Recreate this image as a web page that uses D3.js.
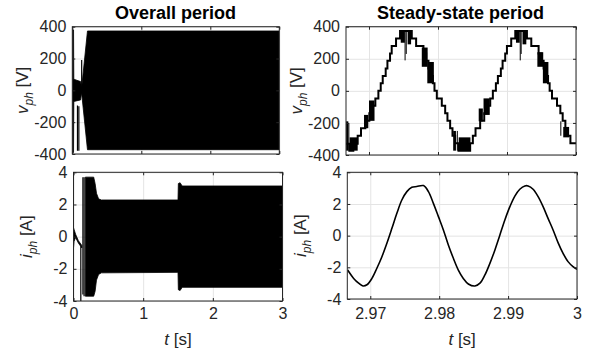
<!DOCTYPE html>
<html>
<head>
<meta charset="utf-8">
<script src="https://cdn.jsdelivr.net/npm/d3@7"></script>
<style>
  body { margin: 0; background: #fff; }
  svg { display: block; font-family: "Liberation Sans", Arial, sans-serif; }
</style>
</head>
<body>
<svg id="chart" width="590" height="353"></svg>
<script>
// ---- data ----

// overall period, voltage envelope: [t, low, high] (the 60 Hz carrier is too dense to show, only the band)
const vAllEnvelope = [
  [0.000, -390, 380], [0.018, -390, 380], [0.022, -70, 70],
  [0.120, -60, 55], [0.135, -15, 15], [0.220, -373, 373], [3.000, -373, 373]
];
// single switching spikes in the start-up: [t, low, high]
const vAllSpikes = [[0.075, -380, -95], [0.095, -380, -100], [0.136, 0, 190]];

// overall period, current envelope (null = gap)
const iAllEnvelope = [
  [0.000, -0.7, 0.55], [0.008, -0.3, 0.45], [0.030, -0.05, 0.15], [0.070, -0.4, -0.25],
  [0.120, -0.7, -0.55],
  [0.125, null, null],
  [0.170, -3.7, 3.7], [0.290, -3.7, 3.7], [0.310, -3.4, 3.3], [0.330, -2.7, 2.7],
  [0.360, -2.35, 2.35], [0.400, -2.25, 2.28], [1.500, -2.22, 2.28], [1.505, -3.3, 3.3],
  [1.530, -3.35, 3.35], [1.560, -3.15, 3.15], [3.000, -3.15, 3.15]
];
const iAllSpikes = [[0.105, -4, -0.6], [0.135, -3.6, 3.7], [0.152, -3.7, 3.7]];

// steady-state voltage: staircase corners (time, level)
const vStepT = [2.96667, 2.96715, 2.96773, 2.96836, 2.96884, 2.96947, 2.97005, 2.97054, 2.97092, 2.97136,
  2.97170, 2.97199, 2.97242, 2.97267, 2.97305, 2.97329, 2.97392, 2.97450, 2.97620, 2.97683,
  2.97789, 2.97828, 2.97862, 2.97886, 2.97925, 2.97949, 2.97983, 2.98055, 2.98104, 2.98137,
  2.98176, 2.98210, 2.98249, 2.98297, 2.98466, 2.98505, 2.98544, 2.98611, 2.98670, 2.98718,
  2.98757, 2.98795, 2.98839, 2.98868, 2.98911, 2.98936, 2.98974, 2.98999, 2.99061, 2.99120,
  2.99289, 2.99352, 2.99458, 2.99497, 2.99531, 2.99555, 2.99595, 2.99618, 2.99652, 2.99725,
  2.99773, 2.99807, 2.99846, 2.99880, 2.99919, 3.00000];
const vStepV = [-330, -373, -330, -280, -233, -187, -140, -93, -47, 0,
  47, 93, 140, 187, 233, 280, 327, 373, 327, 280,
  233, 187, 140, 93, 47, 0, -47, -93, -140, -187,
  -233, -280, -327, -373, -327, -280, -233, -187, -140, -93,
  -47, 0, 47, 93, 140, 187, 233, 280, 327, 373,
  327, 280, 233, 187, 140, 93, 47, 0, -47, -93,
  -140, -187, -233, -280, -327, -327];
// fast switching between neighbouring levels: [t0, t1, low, high]
const vChatter = [
  [2.96680, 2.96700, -373, -190], [2.96720, 2.96836, -373, -290],
  [2.96928, 2.96990, -233, -150], [2.97000, 2.97080, -187, -60],
  [2.97460, 2.97520, 300, 373], [2.97560, 2.97610, 290, 373],
  [2.97765, 2.97850, 150, 270], [2.97845, 2.97940, 47, 180],
  [2.98220, 2.98260, -373, -250], [2.98300, 2.98470, -373, -290],
  [2.98590, 2.98650, -190, -110], [2.98660, 2.98750, -150, -47],
  [2.99130, 2.99185, 300, 373], [2.99225, 2.99280, 290, 373],
  [2.99440, 2.99525, 150, 241], [2.99520, 2.99600, 47, 180],
  [2.99815, 2.99900, -290, -225]
];
// single switching spikes: [t, low, high]
const vSteadySpikes = [
  [2.96672, -373, -190], [2.96708, -373, -200], [2.97523, 190, 373], [2.97540, 230, 373],
  [2.98280, -373, -250], [2.99192, 190, 373], [2.99205, 230, 373], [2.99780, -280, -190]
];

// steady-state current
const iSteadyT = [2.96672, 2.96759, 2.96831, 2.96894, 2.96952, 2.97024, 2.97096, 2.97169, 2.97241, 2.97314,
  2.97386, 2.97458, 2.97531, 2.97603, 2.97675, 2.97772, 2.97844, 2.97916, 2.97989, 2.98061,
  2.98133, 2.98206, 2.98278, 2.98350, 2.98423, 2.98519, 2.98592, 2.98664, 2.98736, 2.98809,
  2.98881, 2.98953, 2.99026, 2.99098, 2.99170, 2.99243, 2.99291, 2.99363, 2.99436, 2.99508,
  2.99580, 2.99653, 2.99725, 2.99798, 2.99870, 2.99942, 3.00000];
const iSteadyA = [-2.17, -2.7, -3.0, -3.18, -3.1, -2.7, -2.06, -1.33, -0.48, 0.46,
  1.41, 2.25, 2.78, 3.05, 3.1, 3.16, 2.78, 2.04, 1.2, 0.36,
  -0.59, -1.43, -2.17, -2.7, -3.05, -3.18, -3.0, -2.48, -1.75, -0.9,
  0.04, 0.99, 1.83, 2.5, 2.93, 3.14, 3.14, 2.93, 2.46, 1.83,
  1.09, 0.36, -0.44, -1.12, -1.64, -1.96, -2.13];

// axes ticks
const vTicks = [-400, -200, 0, 200, 400];
const iTicks = [-4, -2, 0, 2, 4];
const tAllTicks = [0, 1, 2, 3];
const tSteadyTicks = [2.97, 2.98, 2.99, 3];

// ---- drawing ----
const svg = d3.select('#chart');
const ink = '#262626';
let clipId = 0;

function panel(box, xDomain, yDomain, xTicks, yTicks, showXLabels) {
  const x = d3.scaleLinear().domain(xDomain).range([box.x0, box.x1]);
  const y = d3.scaleLinear().domain(yDomain).range([box.y1, box.y0]);
  const w = box.x1 - box.x0;
  const h = box.y1 - box.y0;

  // grid
  const grid = svg.append('g');
  grid.append('g')
    .attr('transform', `translate(0,${box.y1})`)
    .call(d3.axisBottom(x).tickValues(xTicks).tickSize(-h).tickFormat(''));
  grid.append('g')
    .attr('transform', `translate(${box.x0},0)`)
    .call(d3.axisLeft(y).tickValues(yTicks).tickSize(-w).tickFormat(''));
  grid.selectAll('.domain').remove();
  grid.selectAll('line').attr('stroke', '#e4e4e4').attr('stroke-width', 1);

  // data layer, clipped to the box
  const id = 'clip' + (clipId++);
  svg.append('clipPath').attr('id', id)
    .append('rect').attr('x', box.x0).attr('y', box.y0).attr('width', w).attr('height', h);
  const data = svg.append('g').attr('clip-path', `url(#${id})`);

  // frame and ticks (ticks point inward like MATLAB)
  const frame = svg.append('g').attr('fill', ink);
  frame.append('g')
    .attr('transform', `translate(0,${box.y1})`)
    .call(d3.axisBottom(x).tickValues(xTicks).tickSizeInner(-3).tickSizeOuter(0).tickPadding(box.xPad)
      .tickFormat(showXLabels ? (d => String(d)) : ''));
  frame.append('g')
    .attr('transform', `translate(0,${box.y0})`)
    .call(d3.axisTop(x).tickValues(xTicks).tickSizeInner(-3).tickSizeOuter(0).tickFormat(''));
  frame.append('g')
    .attr('transform', `translate(${box.x0},0)`)
    .call(d3.axisLeft(y).tickValues(yTicks).tickSizeInner(-3).tickSizeOuter(0).tickPadding(6)
      .tickFormat(d => String(d)));
  frame.append('g')
    .attr('transform', `translate(${box.x1},0)`)
    .call(d3.axisRight(y).tickValues(yTicks).tickSizeInner(-3).tickSizeOuter(0).tickFormat(''));
  frame.selectAll('.domain').remove();
  frame.selectAll('.tick line').attr('stroke', ink);
  frame.selectAll('.tick text')
    .attr('fill', ink).style('font-size', '16px').style('font-family', '"Liberation Sans", Arial, sans-serif');
  frame.append('rect')
    .attr('x', box.x0).attr('y', box.y0).attr('width', w).attr('height', h)
    .attr('fill', 'none').attr('stroke', ink).attr('stroke-width', 1);

  return { x, y, data, box };
}

function yLabel(p, xPos, sym, unit) {
  const t = svg.append('text')
    .attr('transform', `translate(${xPos},${(p.box.y0 + p.box.y1) / 2}) rotate(-90)`)
    .attr('text-anchor', 'middle')
    .attr('fill', ink)
    .style('font-size', '17px');
  t.append('tspan').attr('font-style', 'italic').text(sym);
  t.append('tspan').attr('font-style', 'italic').attr('dy', 5).style('font-size', '12px').text('ph');
  t.append('tspan').attr('dy', -5).text(` [${unit}]`);
}

function xLabel(p, yPos) {
  const t = svg.append('text')
    .attr('x', (p.box.x0 + p.box.x1) / 2).attr('y', yPos)
    .attr('text-anchor', 'middle')
    .attr('fill', ink)
    .style('font-size', '17px');
  t.append('tspan').attr('font-style', 'italic').text('t');
  t.append('tspan').text(' [s]');
}

function title(cx, text) {
  svg.append('text')
    .attr('x', cx).attr('y', 19)
    .attr('text-anchor', 'middle')
    .attr('fill', '#000')
    .style('font-size', '18px').style('font-weight', 'bold')
    .text(text);
}

function drawSpikes(p, spikes, width) {
  p.data.append('g').selectAll('line').data(spikes).join('line')
    .attr('x1', d => p.x(d[0])).attr('x2', d => p.x(d[0]))
    .attr('y1', d => p.y(d[1])).attr('y2', d => p.y(d[2]))
    .attr('stroke', '#000').attr('stroke-width', width);
}

function drawEnvelope(p, env, spikes) {
  const area = d3.area()
    .defined(d => d[1] != null)
    .x(d => p.x(d[0]))
    .y0(d => p.y(d[1]))
    .y1(d => p.y(d[2]));
  p.data.append('path')
    .attr('d', area(env))
    .attr('fill', '#000').attr('stroke', '#000').attr('stroke-width', 0.8);
  drawSpikes(p, spikes, 1.2);
}

// top left: overall voltage
const tl = panel({ x0: 72.3, x1: 279.3, y0: 26.7, y1: 154, xPad: 6 }, [0, 3], [-400, 400], tAllTicks, vTicks, false);
drawEnvelope(tl, vAllEnvelope, vAllSpikes);
yLabel(tl, 28, 'v', 'V');
title(175.5, 'Overall period');

// top right: steady-state voltage
const tr = panel({ x0: 346, x1: 576, y0: 26.7, y1: 155, xPad: 6 }, [2.966667, 3], [-400, 400], tSteadyTicks, vTicks, false);
tr.data.append('g').selectAll('rect').data(vChatter).join('rect')
  .attr('x', d => tr.x(d[0])).attr('width', d => tr.x(d[1]) - tr.x(d[0]))
  .attr('y', d => tr.y(d[3])).attr('height', d => tr.y(d[2]) - tr.y(d[3]))
  .attr('fill', '#000');
drawSpikes(tr, vSteadySpikes, 1);
const stair = d3.line().curve(d3.curveStepAfter).x(d => tr.x(d[0])).y(d => tr.y(d[1]));
tr.data.append('path')
  .attr('d', stair(d3.zip(vStepT, vStepV)))
  .attr('fill', 'none').attr('stroke', '#000').attr('stroke-width', 2);
yLabel(tr, 302, 'v', 'V');
title(460.5, 'Steady-state period');

// bottom left: overall current
const bl = panel({ x0: 73.5, x1: 282.5, y0: 172.3, y1: 301, xPad: 7 }, [0, 3], [-4, 4], tAllTicks, iTicks, true);
drawEnvelope(bl, iAllEnvelope, iAllSpikes);
yLabel(bl, 32, 'i', 'A');
xLabel(bl, 345);

// bottom right: steady-state current
const br = panel({ x0: 347.3, x1: 577, y0: 172.3, y1: 299, xPad: 9 }, [2.966667, 3], [-4, 4], tSteadyTicks, iTicks, true);
const wave = d3.line().curve(d3.curveCatmullRom).x(d => br.x(d[0])).y(d => br.y(d[1]));
br.data.append('path')
  .attr('d', wave(d3.zip(iSteadyT, iSteadyA)))
  .attr('fill', 'none').attr('stroke', '#000').attr('stroke-width', 1.6);
yLabel(br, 306, 'i', 'A');
xLabel(br, 345);
</script>
</body>
</html>
